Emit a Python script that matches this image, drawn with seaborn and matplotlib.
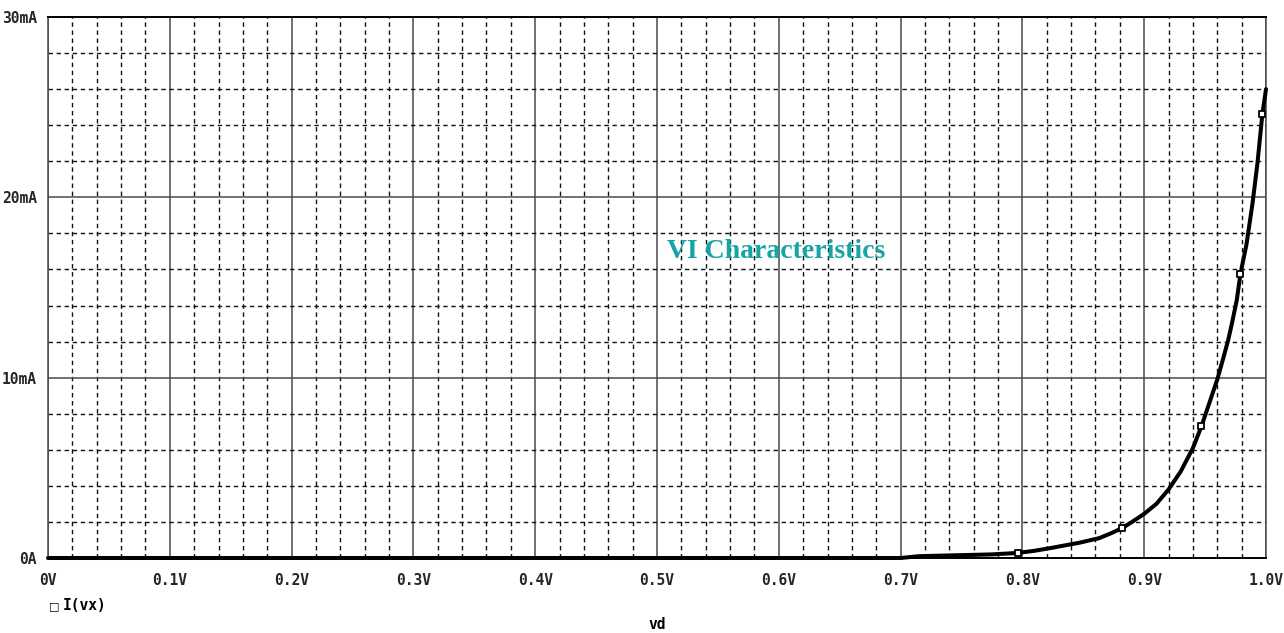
import matplotlib
matplotlib.use("Agg")
import matplotlib.pyplot as plt
from matplotlib.ticker import MultipleLocator
import pandas as pd
import seaborn as sns

# Diode forward sweep: voltage across the diode (V) and current through vx (mA)
vd = [0.0, 0.1, 0.2, 0.3, 0.4, 0.5, 0.6, 0.7, 0.715, 0.775, 0.796, 0.81,
      0.823, 0.835, 0.847, 0.863, 0.872, 0.882, 0.89, 0.9, 0.91, 0.92,
      0.93, 0.94, 0.947, 0.955, 0.96, 0.965, 0.969, 0.972, 0.976, 0.979,
      0.984, 0.989, 0.993, 0.997, 1.0]
i_vx = [0.0, 0.0, 0.0, 0.0, 0.0, 0.0, 0.0, 0.0, 0.1, 0.2, 0.28, 0.4,
        0.55, 0.7, 0.85, 1.1, 1.35, 1.66, 2.0, 2.45, 3.0, 3.8,
        4.8, 6.1, 7.3, 8.9, 9.9, 11.1, 12.1, 13.0, 14.3, 15.75,
        17.4, 19.7, 21.9, 24.6, 26.0]

# Probe symbols placed along the trace
mark_v = [0.796, 0.882, 0.947, 0.979, 0.997]
mark_i = [0.28, 1.66, 7.3, 15.75, 24.6]

x_ticks = [0.0, 0.1, 0.2, 0.3, 0.4, 0.5, 0.6, 0.7, 0.8, 0.9, 1.0]
x_tick_labels = ["0V", "0.1V", "0.2V", "0.3V", "0.4V", "0.5V",
                 "0.6V", "0.7V", "0.8V", "0.9V", "1.0V"]
y_ticks = [0, 10, 20, 30]
y_tick_labels = ["0A", "10mA", "20mA", "30mA"]

title_text = "VI Characteristics"
trace_name = "I(vx)"
x_name = "vd"

sns.set_theme(style="white")
plt.rcParams["font.family"] = ["DejaVu Sans Mono", "DejaVu Sans"]

fig = plt.figure(figsize=(12.84, 6.33), dpi=100)
ax = fig.add_axes([48 / 1284, 75 / 633, (1266 - 48) / 1284, (558 - 17) / 633])

trace = pd.DataFrame({"vd": vd, "i": i_vx})
marks = pd.DataFrame({"vd": mark_v, "i": mark_i})

# grid: solid majors, dashed minors
ax.xaxis.set_minor_locator(MultipleLocator(0.02))
ax.yaxis.set_minor_locator(MultipleLocator(2))
ax.grid(which="major", color="#4a4a4a", linestyle="-", linewidth=1.1)
ax.grid(which="minor", color="#111111", linestyle=(0, (3.2, 2.6)), linewidth=1.0)
ax.set_axisbelow(True)

sns.lineplot(data=trace, x="vd", y="i", ax=ax, color="black",
             linewidth=2.9, estimator=None, sort=False, legend=False,
             zorder=3, clip_on=False)
ax.lines[-1].set_solid_joinstyle("round")
sns.scatterplot(data=marks, x="vd", y="i", ax=ax, marker="s", s=24,
                facecolor="white", edgecolor="black", linewidth=1.3,
                zorder=4, legend=False, clip_on=False)

ax.set_xlim(0, 1.0)
ax.set_ylim(0, 30)
ax.set_xticks(x_ticks)
ax.set_xticklabels(x_tick_labels)
ax.set_yticks(y_ticks)
ax.set_yticklabels(y_tick_labels)
ax.set_xlabel("")
ax.set_ylabel("")

ax.tick_params(axis="both", which="major", direction="out", length=6,
               width=1.0, color="black", labelsize=10.5)
ax.tick_params(axis="x", which="major", pad=5)
ax.tick_params(axis="y", which="major", pad=2)
ax.tick_params(which="minor", length=0)
for lab in ax.get_xticklabels() + ax.get_yticklabels():
    lab.set_fontweight("bold")

for side in ["top", "bottom"]:
    ax.spines[side].set_color("black")
    ax.spines[side].set_linewidth(1.4)
for side in ["left", "right"]:
    ax.spines[side].set_color("#4a4a4a")
    ax.spines[side].set_linewidth(1.1)

ax.text(0.598, 0.567, title_text, transform=ax.transAxes, ha="center",
        va="center", family=["Liberation Serif"], fontweight="bold",
        fontsize=20, color="#17a4a4", zorder=5)

# trace legend under the axis
fig.text(54 / 1284, 1 - 606 / 633, "\u25a1", ha="center", va="center",
         fontsize=8, family=["DejaVu Sans"], color="black")
fig.text(63 / 1284, 1 - 606 / 633, trace_name, ha="left", va="center",
         fontsize=10.5, fontweight="bold", color="black")

fig.text(657 / 1284, 1 - 632 / 633, x_name, ha="center", va="bottom",
         fontsize=10.5, fontweight="bold", color="black")

fig.savefig("out.png", dpi=100, facecolor="white")
